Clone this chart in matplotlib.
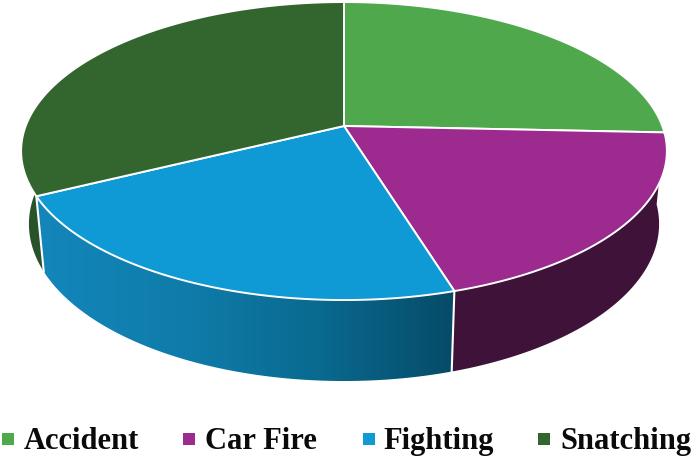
import numpy as np
import matplotlib
matplotlib.use('Agg')
import matplotlib.pyplot as plt
from matplotlib.colors import LinearSegmentedColormap
from matplotlib.patches import Polygon, Rectangle

categories = ['Accident', 'Car Fire', 'Fighting', 'Snatching']
shares = [25.7, 19.6, 22.3, 32.4]

top_colors = ['#4fa84c', '#9c2a8f', '#0f9ad6', '#33652f']
wall_colors = ['#2f6a2d', '#3e1239', '#0f7fb0', '#27522a']
blue_wall = ['#1486bb', '#0f7dab', '#0a6a90', '#064a66']

legend_box_x = [2, 183, 363, 538]
legend_text_x = [24, 205, 383, 560]

k = 0.168
cx = 344


# angle is clockwise from the top, circle gets squashed with some perspective
def project(theta, apex_y, A, b):
    u = np.sin(theta)
    v = np.cos(theta)
    w = 1 + k * v
    return cx + b * u / w, apex_y - A * v / w


def upper(theta):
    return project(theta, 126, 144.8, 318.3)


def lower(theta):
    return project(theta, 197.6, 152.6, 310.6)


def wall_poly(t0, t1):
    t = np.linspace(t0, t1, 200)
    x1, y1 = upper(t)
    x2, y2 = lower(t)
    return np.column_stack([np.r_[x1, x2[::-1]], np.r_[y1, y2[::-1]]])


fig = plt.figure(figsize=(7, 4.58), dpi=100)
ax = fig.add_axes([0, 0, 1, 1])

edges = np.r_[0, np.cumsum(shares)] / np.sum(shares) * 2 * np.pi

# side walls first, the top face covers whatever is behind it
for i in [3, 1]:
    ax.add_patch(Polygon(wall_poly(edges[i], edges[i + 1]), fc=wall_colors[i], ec='none', zorder=1))

p = Polygon(wall_poly(edges[2], edges[3]), fc='none', ec='none', zorder=1)
ax.add_patch(p)
cmap = LinearSegmentedColormap.from_list('wall', blue_wall)
im = ax.imshow(np.linspace(0, 1, 256).reshape(1, -1), cmap=cmap, extent=[35, 460, 458, 0],
               aspect='auto', zorder=1)
im.set_clip_path(p)

for i in [2, 3]:
    xa, ya = upper(edges[i])
    xb, yb = lower(edges[i])
    ax.plot([xa, xb], [ya, yb], color='white', lw=1.5, zorder=2)

# top face
for i in range(4):
    t = np.linspace(edges[i], edges[i + 1], 200)
    x, y = upper(t)
    pts = np.column_stack([np.r_[cx, x], np.r_[126, y]])
    ax.add_patch(Polygon(pts, fc=top_colors[i], ec='white', lw=1.4, joinstyle='round', zorder=3))

# legend
for i, name in enumerate(categories):
    ax.add_patch(Rectangle((legend_box_x[i], 433), 12, 12, fc=top_colors[i], ec='none', zorder=3))
    ax.text(legend_text_x[i], 449, name, family='Liberation Serif', fontweight='bold', fontsize=22,
            color='#0a0a0a', ha='left', va='baseline')

ax.set_xlim(0, 700)
ax.set_ylim(458, 0)
ax.axis('off')
fig.savefig('out.png', dpi=100)
